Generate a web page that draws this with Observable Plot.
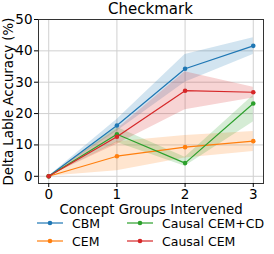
<!DOCTYPE html>
<html>
<head>
<meta charset="utf-8">
<script src="https://cdn.jsdelivr.net/npm/d3@7"></script>
<script src="https://cdn.jsdelivr.net/npm/@observablehq/plot@0.6"></script>
<style>
  html, body { margin: 0; padding: 0; background: #fff; }
  body { width: 274px; height: 254px; overflow: hidden; font-family: "DejaVu Sans", sans-serif; }
  #title { height: 13px; position: relative; }
  #title span { position: absolute; left: 38px; width: 225px; top: 2px; text-align: center; font-size: 15px; line-height: 15px; color: #000; }
  #legend { position: relative; height: 41px; font-size: 12.5px; color: #000; }
  .item { position: absolute; display: flex; align-items: center; height: 16px; }
  .item svg { margin-right: 9px; }
  #chart svg g[aria-label="x-axis tick label"],
  #chart svg g[aria-label="y-axis tick label"] { font-size: 13.5px; }
  #chart svg g[aria-label="x-axis label"],
  #chart svg g[aria-label="y-axis label"] { font-size: 13.3px; }
</style>
</head>
<body>
<div id="title"><span>Checkmark</span></div>
<div id="chart"></div>
<div id="legend"></div>
<script>
const groups = [0, 1, 2, 3];
const yTicks = [0, 10, 20, 30, 40, 50];
const seriesNames = ["CBM", "CEM", "Causal CEM+CD", "Causal CEM"];
const seriesColors = ["#1f77b4", "#ff7f0e", "#2ca02c", "#d62728"];

const cbmMean = [0, 16.2, 34.3, 41.6];
const cbmLow  = [0, 14.4, 30.0, 38.8];
const cbmHigh = [0, 18.1, 38.8, 44.2];

const cemMean = [0, 6.4, 9.3, 11.2];
const cemLow  = [0, 1.8, 5.8, 7.9];
const cemHigh = [0, 11.0, 13.0, 14.3];

const cdMean = [0, 13.4, 4.2, 23.2];
const cdLow  = [0, 10.8, 3.2, 17.3];
const cdHigh = [0, 15.6, 6.1, 25.8];

const causalMean = [0, 12.6, 27.3, 26.8];
const causalLow  = [0, 10.2, 21.2, 25.0];
const causalHigh = [0, 15.0, 33.3, 28.4];

const means = [cbmMean, cemMean, cdMean, causalMean];
const lows = [cbmLow, cemLow, cdLow, causalLow];
const highs = [cbmHigh, cemHigh, cdHigh, causalHigh];

const rows = [];
seriesNames.forEach((name, s) => {
  groups.forEach((g, i) => {
    rows.push({series: name, x: g, y: means[s][i], lo: lows[s][i], hi: highs[s][i]});
  });
});

const color = {domain: seriesNames, range: seriesColors};
const font = "DejaVu Sans, sans-serif";

const marks = [
  Plot.gridX(groups, {stroke: "#d0d0d0", strokeOpacity: 1, strokeWidth: 1}),
  Plot.gridY(yTicks, {stroke: "#d0d0d0", strokeOpacity: 1, strokeWidth: 1})
];
seriesNames.forEach((name) => {
  const d = rows.filter(r => r.series === name);
  marks.push(Plot.areaY(d, {x: "x", y1: "lo", y2: "hi", fill: "series", fillOpacity: 0.2}));
});
seriesNames.forEach((name) => {
  const d = rows.filter(r => r.series === name);
  marks.push(Plot.line(d, {x: "x", y: "y", stroke: "series", strokeWidth: 1.2}));
  marks.push(Plot.dot(d, {x: "x", y: "y", fill: "series", r: 2.3}));
});
marks.push(Plot.frame({stroke: "#333", strokeWidth: 1}));
marks.push(Plot.axisX(groups, {tickFormat: d => String(d), tickSize: 4, tickPadding: 2, fill: "#000",
  label: "Concept Groups Intervened", labelAnchor: "center", labelOffset: 30, labelArrow: "none"}));
marks.push(Plot.axisY(yTicks, {tickSize: 4, tickPadding: 2, fill: "#000",
  label: "Delta Lable Accuracy (%)", labelAnchor: "center", labelOffset: 35, labelArrow: "none"}));

const plot = Plot.plot({
  width: 274,
  height: 202,
  marginTop: 6,
  marginLeft: 38,
  marginRight: 11,
  marginBottom: 32,
  style: {fontFamily: font, fontSize: "13px", color: "#000", background: "#fff", overflow: "visible"},
  color,
  x: {domain: [-0.15, 3.15]},
  y: {domain: [-2.3, 50]},
  marks
});
document.getElementById("chart").appendChild(plot);

// legend (two columns, column-major order)
const legend = document.getElementById("legend");
const positions = [[37, 0], [37, 18], [127, 0], [127, 18]];
seriesNames.forEach((name, s) => {
  const div = document.createElement("div");
  div.className = "item";
  div.style.left = positions[s][0] + "px";
  div.style.top = positions[s][1] + "px";
  const sw = d3.create("svg").attr("width", 26).attr("height", 8);
  sw.append("line").attr("x1", 0).attr("x2", 26).attr("y1", 4).attr("y2", 4)
    .attr("stroke", seriesColors[s]).attr("stroke-width", 1.2);
  sw.append("circle").attr("cx", 13).attr("cy", 4).attr("r", 2.3).attr("fill", seriesColors[s]);
  div.appendChild(sw.node());
  const t = document.createElement("span");
  t.textContent = name;
  div.appendChild(t);
  legend.appendChild(div);
});
</script>
</body>
</html>
